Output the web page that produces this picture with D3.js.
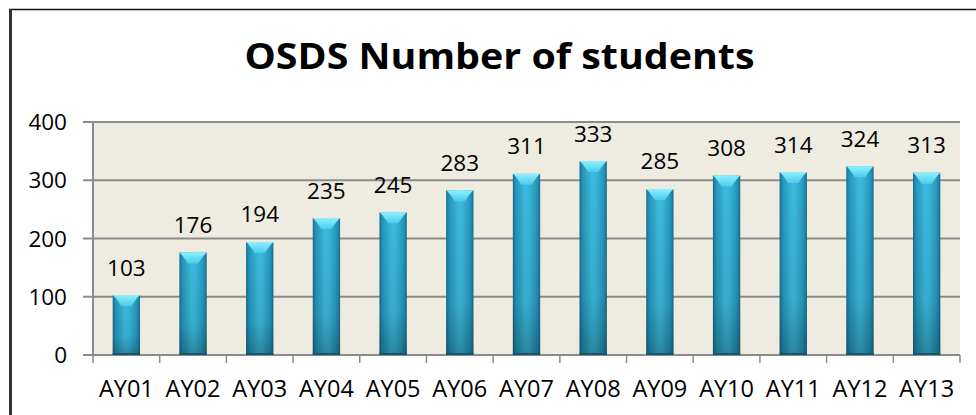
<!DOCTYPE html>
<html>
<head>
<meta charset="utf-8">
<script src="https://cdn.jsdelivr.net/npm/d3@7/dist/d3.min.js"></script>
<style>
  html, body { margin: 0; padding: 0; background: #fff; }
  svg { display: block; font-family: "Open Sans", sans-serif; }
</style>
</head>
<body>
<svg id="chart" width="976" height="415"></svg>
<script>
// chart data
var years = ["AY01", "AY02", "AY03", "AY04", "AY05", "AY06", "AY07",
             "AY08", "AY09", "AY10", "AY11", "AY12", "AY13"];
var students = [103, 176, 194, 235, 245, 283, 311, 333, 285, 308, 314, 324, 313];
var yTicks = [0, 100, 200, 300, 400];
var title = "OSDS Number of students";

var svg = d3.select("#chart");

var plot = { left: 93, right: 960, top: 122, bottom: 355 };

var x = d3.scaleBand()
  .domain(years)
  .range([plot.left, plot.right])
  .paddingInner(0.59)
  .paddingOuter(0.295);

var band = d3.scaleBand().domain(years).range([plot.left, plot.right]);

var y = d3.scaleLinear().domain([0, 400]).range([plot.bottom, plot.top]);

var defs = svg.append("defs");

var bodyGrad = defs.append("linearGradient")
  .attr("id", "barBody")
  .attr("x1", "0").attr("x2", "1").attr("y1", "0").attr("y2", "0");
[[0, "#1b6f8c"], [0.12, "#2597bc"], [0.45, "#3cbbdf"], [0.6, "#3ab7dc"],
 [0.88, "#2597bc"], [1, "#1b6f8c"]].forEach(function(s) {
  bodyGrad.append("stop").attr("offset", s[0]).attr("stop-color", s[1]);
});

var shadeGrad = defs.append("linearGradient")
  .attr("id", "barShade")
  .attr("x1", "0").attr("x2", "0").attr("y1", "0").attr("y2", "1");
shadeGrad.append("stop").attr("offset", 0).attr("stop-color", "#000").attr("stop-opacity", 0);
shadeGrad.append("stop").attr("offset", 0.7).attr("stop-color", "#000").attr("stop-opacity", 0.08);
shadeGrad.append("stop").attr("offset", 1).attr("stop-color", "#000").attr("stop-opacity", 0.28);

var capGrad = defs.append("linearGradient")
  .attr("id", "barCap")
  .attr("x1", "0").attr("x2", "0").attr("y1", "0").attr("y2", "1");
capGrad.append("stop").attr("offset", 0).attr("stop-color", "#8ef0ff");
capGrad.append("stop").attr("offset", 1).attr("stop-color", "#4ccbec");

// outer frame (top and left edges only, as in the picture)
svg.append("line")
  .attr("x1", 9).attr("x2", 976).attr("y1", 9.5).attr("y2", 9.5)
  .attr("stroke", "#111").attr("stroke-width", 1.5);
svg.append("line")
  .attr("x1", 10.5).attr("x2", 10.5).attr("y1", 9).attr("y2", 415)
  .attr("stroke", "#333").attr("stroke-width", 3);

// title
svg.append("text")
  .attr("x", 499.5)
  .attr("y", 69)
  .attr("text-anchor", "middle")
  .attr("textLength", 510)
  .attr("lengthAdjust", "spacingAndGlyphs")
  .style("font-size", "35px")
  .style("font-weight", "bold")
  .attr("fill", "#000")
  .text(title);

// plot background
svg.append("rect")
  .attr("x", plot.left).attr("y", plot.top)
  .attr("width", plot.right - plot.left).attr("height", plot.bottom - plot.top)
  .attr("fill", "#eeebe1");

// gridlines with small outside ticks
svg.append("g")
  .selectAll("line")
  .data(yTicks)
  .enter()
  .append("line")
  .attr("x1", plot.left - 10)
  .attr("x2", plot.right)
  .attr("y1", function(d) { return y(d); })
  .attr("y2", function(d) { return y(d); })
  .attr("stroke", "#8c8c8c")
  .attr("stroke-width", 2);

// y axis line
svg.append("line")
  .attr("x1", plot.left).attr("x2", plot.left)
  .attr("y1", plot.top).attr("y2", plot.bottom)
  .attr("stroke", "#8c8c8c").attr("stroke-width", 2);

// x tick marks at band edges
var edges = years.map(function(d) { return band(d); }).concat([plot.right]);
svg.append("g")
  .selectAll("line")
  .data(edges)
  .enter()
  .append("line")
  .attr("x1", function(d) { return d; })
  .attr("x2", function(d) { return d; })
  .attr("y1", plot.bottom)
  .attr("y2", plot.bottom + 8)
  .attr("stroke", "#8c8c8c")
  .attr("stroke-width", 1.5);

// y tick labels
svg.append("g")
  .selectAll("text")
  .data(yTicks)
  .enter()
  .append("text")
  .attr("x", 67)
  .attr("y", function(d) { return y(d) + 8; })
  .attr("text-anchor", "end")
  .style("font-size", "22.5px")
  .attr("fill", "#000")
  .text(function(d) { return d; });

// x tick labels
svg.append("g")
  .selectAll("text")
  .data(years)
  .enter()
  .append("text")
  .attr("x", function(d) { return band(d) + band.bandwidth() / 2; })
  .attr("y", 397)
  .attr("text-anchor", "middle")
  .style("font-size", "23.5px")
  .attr("fill", "#000")
  .text(function(d) { return d; });

// bars
var bars = svg.append("g")
  .selectAll("g")
  .data(students)
  .enter()
  .append("g");

bars.append("rect")
  .attr("x", function(d, i) { return x(years[i]); })
  .attr("y", function(d) { return y(d); })
  .attr("width", x.bandwidth())
  .attr("height", function(d) { return y(0) - y(d); })
  .attr("fill", "url(#barBody)");

bars.append("rect")
  .attr("x", function(d, i) { return x(years[i]); })
  .attr("y", function(d) { return y(d); })
  .attr("width", x.bandwidth())
  .attr("height", function(d) { return y(0) - y(d); })
  .attr("fill", "url(#barShade)");

bars.append("polygon")
  .attr("points", function(d, i) {
    var x0 = x(years[i]), x1 = x0 + x.bandwidth(), cx = (x0 + x1) / 2, t = y(d);
    return [[x0, t], [x1, t], [x1 - 3, t + 3], [cx + 5, t + 11], [cx - 5, t + 11], [x0 + 3, t + 3]]
      .map(function(p) { return p.join(","); }).join(" ");
  })
  .attr("fill", "url(#barCap)");

bars.append("line")
  .attr("x1", function(d, i) { return x(years[i]); })
  .attr("x2", function(d, i) { return x(years[i]) + x.bandwidth(); })
  .attr("y1", plot.bottom - 1)
  .attr("y2", plot.bottom - 1)
  .attr("stroke", "#17556b")
  .attr("stroke-width", 2);

// value labels
bars.append("text")
  .attr("x", function(d, i) { return x(years[i]) + x.bandwidth() / 2; })
  .attr("y", function(d) { return y(d) - 19.5; })
  .attr("text-anchor", "middle")
  .style("font-size", "22.5px")
  .attr("fill", "#000")
  .text(function(d) { return d; });
</script>
</body>
</html>
